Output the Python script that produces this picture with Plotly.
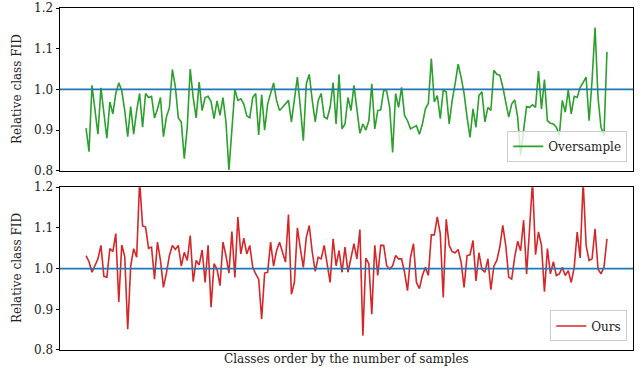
import plotly.graph_objects as go
from plotly.subplots import make_subplots

oversample = [
    0.905, 0.847, 1.010, 0.950, 0.890, 1.004, 0.940, 0.880, 0.969, 0.940,
    0.990, 1.016, 0.997, 0.948, 0.884, 0.958, 0.890, 0.948, 0.990, 0.907,
    0.990, 0.980, 0.983, 0.930, 0.952, 0.980, 0.884, 0.932, 0.955, 1.049,
    1.006, 0.930, 0.920, 0.830, 0.907, 1.050, 0.980, 0.930,
    1.018, 0.948, 0.980, 0.983, 0.970, 0.928, 0.972, 0.936, 0.980, 0.920,
    0.802, 0.900, 1.000, 0.973, 0.977, 0.964, 0.935, 0.930, 0.980, 0.990,
    0.888, 0.987, 0.900, 0.964, 0.990, 1.016, 0.973, 0.948, 0.956, 0.964,
    0.973, 0.920, 0.977, 1.030, 0.956, 0.874, 1.014, 1.037, 0.973, 0.920,
    0.973, 0.990, 0.932, 0.928,
    0.956, 1.017, 0.915, 1.037, 0.903, 0.915, 0.980, 0.948, 1.010, 0.948,
    0.892, 0.915, 0.900, 0.923, 1.014, 0.903, 0.948, 0.950, 0.998, 0.996,
    0.956, 0.845, 0.990, 0.956, 1.005, 0.936, 0.923, 0.903, 0.907, 0.911,
    0.890, 0.915, 0.952, 0.966, 1.076, 0.969, 0.985, 0.928, 0.998, 0.994,
    0.915, 0.973, 1.014, 1.062, 1.030, 0.990,
    0.932, 0.882, 0.952, 0.907, 0.985, 0.994, 0.920, 0.956, 0.948, 1.047,
    1.037, 1.035, 1.006, 0.969, 0.932, 0.964, 0.974, 0.932, 0.837, 0.900,
    0.958, 0.956, 0.962, 0.956, 1.045, 0.952, 1.024, 0.923, 0.917, 0.915,
    0.907, 0.887, 0.973, 0.944, 0.998, 0.940, 0.983, 0.980, 1.005, 1.017,
    1.030, 0.923, 1.022, 1.152, 0.980, 0.907, 0.887, 1.092,
]

ours = [
    1.032, 1.017, 0.991, 1.006, 1.024, 1.057, 0.981, 0.979, 1.049, 1.042,
    1.086, 0.918, 1.058, 1.030, 0.851, 1.006, 1.049, 1.028, 1.215, 1.105,
    1.102, 1.050, 1.053, 0.974, 1.065, 1.020, 0.954, 0.989, 1.032, 1.057,
    1.047, 1.057, 1.006, 1.040, 1.020, 1.081, 0.968, 1.020,
    1.009, 1.046, 0.966, 1.057, 0.905, 1.012, 0.999, 0.958, 1.065, 1.032,
    0.989, 1.091, 0.978, 1.127, 1.036, 1.075, 1.036, 1.057, 1.003, 0.987,
    0.974, 0.876, 0.989, 0.991, 1.065, 1.006, 1.044, 1.065, 1.040, 1.016,
    1.133, 0.937, 0.966, 1.100, 1.049, 1.003, 1.077, 1.106, 1.040, 0.993,
    1.028, 1.024, 1.057, 1.012,
    0.966, 1.073, 1.007, 1.044, 0.991, 1.053, 0.991, 1.026, 1.061, 1.024,
    1.096, 0.835, 1.026, 1.012, 0.888, 1.057, 0.983, 1.057, 1.057, 1.007,
    0.999, 1.007, 1.032, 1.024, 1.024, 0.991, 0.946, 1.028, 1.061, 0.966,
    0.951, 0.983, 1.003, 0.983, 1.083, 1.083, 1.127, 1.086, 0.929, 1.121,
    1.057, 1.042, 1.039, 1.047, 1.016, 0.954,
    1.032, 1.034, 1.069, 0.970, 1.039, 0.998, 0.991, 1.024, 0.948, 1.006,
    1.020, 1.053, 1.106, 1.057, 0.979, 0.974, 1.028, 1.067, 1.044, 1.119,
    0.987, 1.098, 1.215, 1.034, 1.090, 1.057, 0.943, 1.049, 0.987, 1.017,
    0.983, 0.987, 1.003, 0.983, 0.995, 0.966, 1.003, 1.090, 1.026, 1.215,
    1.057, 1.020, 1.024, 1.098, 0.999, 0.987, 1.003, 1.073,
]

classes = list(range(len(oversample)))
ytick_vals = [0.8, 0.9, 1.0, 1.1, 1.2]
ytick_text = ["0.8", "0.9", "1.0", "1.1", "1.2"]
reference_level = 1.0

FONT = "DejaVu Serif"
FS = 12
n = len(classes) - 1
xr = [-0.05 * n, 1.05 * n]

fig = make_subplots(rows=2, cols=1, vertical_spacing=0.048)

fig.add_trace(go.Scatter(x=classes, y=oversample, mode="lines", name="Oversample",
                         line=dict(color="#2ca02c", width=1.6), legend="legend"),
              row=1, col=1)
fig.add_trace(go.Scatter(x=classes, y=ours, mode="lines", name="Ours",
                         line=dict(color="#d62728", width=1.6), legend="legend2"),
              row=2, col=1)

for yref in ["y", "y2"]:
    fig.add_shape(type="line", xref=yref.replace("y", "x") + " domain", yref=yref,
                  x0=0, x1=1, y0=reference_level, y1=reference_level,
                  line=dict(color="#1f77b4", width=1.6), layer="above")

axis_common = dict(showline=True, mirror=True, linecolor="black", linewidth=1,
                   showgrid=False, zeroline=False, automargin=False)
for r in [1, 2]:
    fig.update_xaxes(range=xr, showticklabels=False, ticks="", row=r, col=1, **axis_common)
    fig.update_yaxes(range=[0.8, 1.2], tickvals=ytick_vals, ticktext=ytick_text,
                     ticks="outside", ticklen=3.5, tickwidth=0.8, tickcolor="black",
                     tickfont=dict(family=FONT, size=FS, color="#222222"),
                     row=r, col=1, **axis_common)

for yc in [0.763, 0.24]:
    fig.add_annotation(text="Relative class FID", xref="paper", yref="paper",
                       x=-0.075, y=yc, xanchor="center", yanchor="middle", textangle=-90,
                       showarrow=False, font=dict(family=FONT, size=FS, color="#222222"))

fig.add_annotation(text="Classes order by the number of samples", xref="paper", yref="paper",
                   x=0.5, y=-0.026, yanchor="middle", showarrow=False,
                   font=dict(family=FONT, size=FS, color="#222222"))

legend_style = dict(bgcolor="rgba(255,255,255,0.8)", bordercolor="#cccccc", borderwidth=1,
                    font=dict(family=FONT, size=FS, color="#222222"),
                    xanchor="right", yanchor="bottom", itemwidth=30)
fig.update_layout(
    width=640, height=373,
    margin=dict(l=60, r=7, t=8, b=23),
    plot_bgcolor="white", paper_bgcolor="white",
    font=dict(family=FONT, size=FS, color="#222222"),
    showlegend=True,
    legend=dict(x=0.99, y=0.55, **legend_style),
    legend2=dict(x=0.99, y=0.025, **legend_style),
)

fig.write_html("out.html", config={"displayModeBar": False},
               post_script="document.body.style.margin='0';document.body.style.overflow='hidden';")
